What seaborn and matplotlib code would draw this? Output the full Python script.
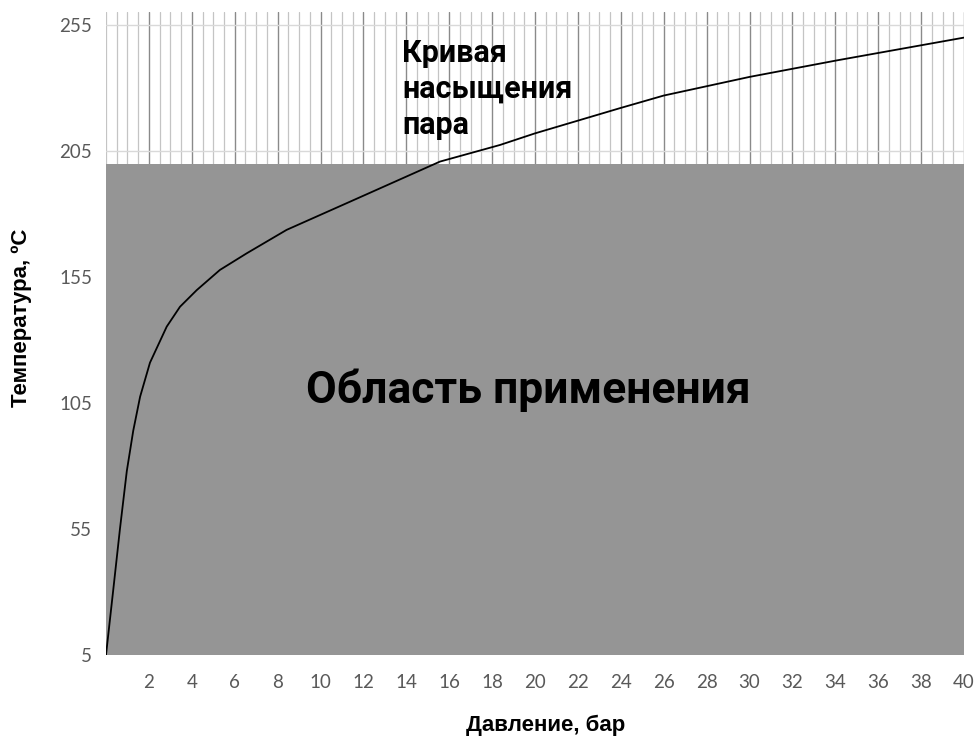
import matplotlib
matplotlib.use('Agg')
import matplotlib.pyplot as plt
import pandas as pd
import seaborn as sns
from matplotlib.ticker import MultipleLocator

# Кривая насыщения пара
pressure = [0, 0.34, 0.65, 0.97, 1.27, 1.59, 2.05, 2.83, 3.45, 4.23, 5.31, 6.56, 8.42,
            11.38, 15.57, 18.37, 20.0, 23.96, 26.0, 30.0, 34.1, 40.0]
temperature = [5, 31, 55, 78, 94, 107.5, 121, 135.3, 143.2, 149.8, 157.8, 164.4, 173.7,
               184.9, 200.8, 207.4, 212, 222, 227, 234.4, 241, 250]

# Область применения
area_pressure = [0, 40]
area_t_min = 5
area_t_max = 200

x_ticks = list(range(2, 41, 2))
y_ticks = [5, 55, 105, 155, 205, 255]

sns.set_style('white')
plt.rcParams['font.family'] = ['Lato', 'DejaVu Sans']

fig = plt.figure(figsize=(9.75, 7.37), dpi=100)
ax = fig.add_axes([106 / 975, (737 - 655) / 737, (964 - 106) / 975, (655 - 12.4) / 737])

df = pd.DataFrame({'p': pressure, 't': temperature})

# сетка
ax.set_axisbelow(True)
ax.xaxis.set_minor_locator(MultipleLocator(0.5))
ax.grid(which='minor', axis='x', color='#c4c4c4', linewidth=0.9)
ax.grid(which='major', axis='x', color='#8a8a8a', linewidth=1.0)
ax.grid(which='major', axis='y', color='#d9d9d9', linewidth=1.0)

ax.fill_between(area_pressure, area_t_min, area_t_max, color='#959595', zorder=1, linewidth=0)
sns.lineplot(data=df, x='p', y='t', ax=ax, color='black', linewidth=1.3, zorder=3)

ax.set_xlim(0, 40)
ax.set_ylim(5, 260)
ax.set_xticks(x_ticks)
ax.set_yticks(y_ticks)
ax.tick_params(axis='both', which='both', length=0, labelsize=13.5, labelcolor='#595959')
ax.tick_params(axis='x', pad=14)
ax.tick_params(axis='y', pad=10)
for s in ax.spines.values():
    s.set_visible(False)

ax.set_xlabel('Давление, бар', fontsize=16, fontweight='bold', color='black',
              family=['Liberation Sans', 'DejaVu Sans'])
ax.set_ylabel('Температура, ºС', fontsize=16, fontweight='bold', color='black',
              family=['Liberation Sans', 'DejaVu Sans'])
ax.xaxis.set_label_coords(0.512, -0.093)
ax.yaxis.set_label_coords(-0.086, 0.524)

ax.text(13.8, 250, 'Кривая\nнасыщения\nпара', fontsize=22, fontweight='bold', color='black',
        family=['Roboto', 'DejaVu Sans'], va='top', ha='left', linespacing=1.25, zorder=4)
ax.text(19.7, 110, 'Область применения', fontsize=32, fontweight='bold', color='black',
        family=['Roboto', 'DejaVu Sans'], va='center', ha='center', zorder=4)

fig.savefig('out.png', dpi=100)
